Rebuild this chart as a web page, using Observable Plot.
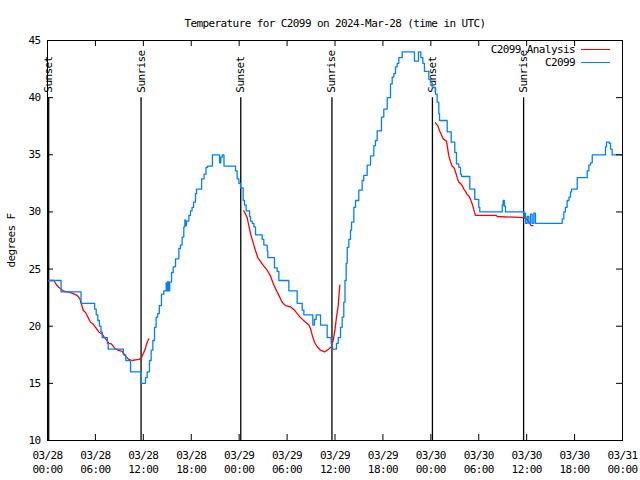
<!DOCTYPE html>
<html><head><meta charset="utf-8">
<script src="https://cdn.jsdelivr.net/npm/d3@7"></script>
<script src="https://cdn.jsdelivr.net/npm/@observablehq/plot@0.6"></script>
<style>
body{margin:0;background:#fff}
#wrap{position:relative;width:640px;height:480px;overflow:hidden}
.lg{position:absolute;font-family:"DejaVu Sans Mono",monospace;font-size:11px;letter-spacing:-0.6px;line-height:13px;white-space:pre;text-align:right;color:#000}
.sw{position:absolute;height:1.3px}
</style></head><body><div id="wrap"></div>
<script>
const title = "Temperature for C2099 on 2024-Mar-28 (time in UTC)";
const yLabel = "degrees F";
const seriesNames = ["C2099 Analysis", "C2099"];
const seriesColors = ["#ff0000", "#0080ff"];
const startTime = "2024-03-28T00:00Z";
const endTime = "2024-03-31T00:00Z";
const xTickTimes = ["2024-03-28T00:00Z","2024-03-28T06:00Z","2024-03-28T12:00Z","2024-03-28T18:00Z",
  "2024-03-29T00:00Z","2024-03-29T06:00Z","2024-03-29T12:00Z","2024-03-29T18:00Z",
  "2024-03-30T00:00Z","2024-03-30T06:00Z","2024-03-30T12:00Z","2024-03-30T18:00Z","2024-03-31T00:00Z"];
const yTicks = [10, 15, 20, 25, 30, 35, 40, 45];
const sunEventTimes = ["2024-03-28T00:09Z","2024-03-28T11:43Z","2024-03-29T00:12Z","2024-03-29T11:37Z","2024-03-30T00:12Z","2024-03-30T11:37Z"];
const sunEventLabels = ["Sunset","Sunrise","Sunset","Sunrise","Sunset","Sunrise"];

// observed (C2099): hours after 2024-03-28 00:00 UTC; each value holds until the next time
const obsHours = [
  0,1.7,4.2,5.9,6.1,6.3,6.5,6.7,6.85,7.5,
  7.6,9.5,9.8,10.4,11.75,12.27,12.48,12.77,12.98,13.19,
  13.4,13.6,13.8,14.0,14.27,14.56,14.86,14.95,15.05,15.15,
  15.3,15.53,15.74,16.03,16.45,16.65,16.86,17.07,17.2,17.3,
  17.4,17.7,17.9,18.1,18.3,18.53,18.66,19.3,19.6,19.85,
  20.05,20.65,21.55,21.7,21.9,22.1,23.54,23.75,23.96,24.17,
  24.5,24.67,24.88,25.3,25.42,25.63,25.84,26.05,26.88,27.09,
  27.51,27.59,28.42,28.76,28.97,30.22,31.26,31.89,32.1,33.22,
  33.43,33.64,34.19,35.02,35.52,35.65,36.19,36.4,36.69,36.9,
  37.1,37.25,37.4,37.53,37.73,37.94,38.07,38.36,38.57,38.98,
  39.4,39.6,40.03,40.45,40.86,41.07,41.28,41.82,42.11,42.54,
  42.95,43.16,43.37,43.58,43.79,43.99,44.41,45.95,46.45,46.75,
  47.0,47.2,47.75,47.96,48.17,48.58,48.79,49.0,49.09,50.05,
  50.55,51.0,51.21,51.5,51.71,51.84,52.88,53.5,54.0,54.13,
  56.94,57.05,57.2,57.35,59.64,59.75,59.86,60.07,60.27,60.48,
  60.69,60.9,61.1,64.45,64.65,64.85,65.07,65.3,65.49,65.62,
  66.33,67.58,67.79,68.0,68.21,69.87,70.0,70.35,70.5,70.7,
  72];
const obsTemps = [
  24,23,22,21.5,21,20.5,20,19.5,19,18.5,
  18,17.5,17,16,15,15.5,16,17,17.9,18.75,
  19.9,20.8,21.1,21.8,22.8,23.1,23.8,23.1,23.9,23.1,
  23.85,24.7,25.2,25.9,26.8,27.1,27.8,28.7,29.3,28.8,
  29.2,29.7,30.1,30.4,30.85,31.6,32,32.9,33.3,33.9,
  34,35,34.3,34.8,35,34,33.6,32.9,32.5,32.1,
  31,30.6,30.1,29.6,29.2,29,28.7,28,27.6,27.1,
  26.6,26,25.1,24.8,24,23.1,22,21.4,21,20.1,
  20.6,21,20.1,19,18.5,18,18.5,19,19.9,20.8,
  22.1,24,25.5,26.9,27.6,28.4,29.1,30.4,31,31.9,
  32.75,33.2,34.1,34.9,35.8,36.25,37.1,38.3,39,40,
  41.2,41.8,42.1,42.7,43,43.5,44,43.2,44,43.5,
  43,42.3,41.6,41.3,40.9,40.3,39.6,38.6,38,37,
  36.1,35.2,34.2,33.9,33.3,33.1,32,31.1,30.4,30,
  30.6,31,30.5,30,29.6,29.9,29,29.6,29,29.8,
  29,29.9,29,29.4,30,30.4,31,31.3,31.75,32,
  33,33.6,34.1,34.3,35,35.7,36.1,36,35.5,35,
  35];

// analysis (C2099 Analysis): three separate runs
const anaHours1 = [0.29,0.79,1.2,1.63,2.04,2.5,3.09,3.72,4.05,4.22,4.47,4.76,5.05,5.38,5.7,6.01,6.43,6.85,7.14,7.4,7.68,8.0,8.39,8.81,9.35,9.77,10.18,10.6,11.02,11.44,11.73,12.06,12.27,12.48,12.69];
const anaTemps1 = [24,24,23.56,23.27,23.06,23,22.9,22.7,22.4,22,21.4,21.2,20.8,20.35,20.2,19.9,19.5,19.3,19,18.8,18.5,18.45,18.1,17.9,17.8,17.4,17.1,17,17.05,17.1,17.2,17.7,18.1,18.6,18.9];
const anaHours2 = [24.58,25.0,25.21,25.42,25.63,25.84,26.05,26.34,26.58,26.88,27.17,27.51,27.92,28.13,28.34,28.68,28.97,29.39,29.8,30.43,30.93,31.26,31.68,32.31,32.72,32.93,33.15,33.43,33.77,34.18,34.69,35.22,35.56,35.77,35.98,36.19,36.4,36.6];
const anaTemps2 = [30.1,29.5,28.8,28.1,27.6,27.1,26.6,26,25.75,25.45,25.2,24.9,24.4,24,23.6,23.1,22.7,22.1,21.8,21.7,21.4,21.1,20.75,20.35,20.1,19.8,19.2,18.6,18.2,17.9,17.75,18,18.2,18.75,19.6,20.8,21.8,23.6];
const anaHours3 = [48.58,48.87,49.09,49.3,49.5,49.71,49.96,50.05,50.25,50.46,50.67,50.88,51.09,51.3,51.5,51.71,51.92,52.13,52.34,52.55,52.76,52.97,53.18,53.38,53.59,56.22,56.3,59.64,59.98,60.27,60.57,60.78];
const anaTemps3 = [37.8,37.55,37.1,36.8,36.45,36.3,36.2,35.8,34.9,34.4,34,33.9,33.5,33,32.6,32.5,32.3,32,31.8,31.5,31.4,31.1,30.7,30.2,29.7,29.7,29.6,29.5,29.4,29.1,28.8,28.8];

const t0 = new Date(startTime);
const at = h => new Date(+t0 + h * 3600e3);
const obs = obsHours.map((h, i) => ({t: at(h), v: obsTemps[i]}));
const ana = [[anaHours1, anaTemps1], [anaHours2, anaTemps2], [anaHours3, anaTemps3]]
  .flatMap(([hs, vs], r) => hs.map((h, i) => ({t: at(h), v: vs[i], run: r})));
const events = sunEventTimes.map((s, i) => ({t: new Date(s), label: sunEventLabels[i]}));
const xTicks = xTickTimes.map(s => new Date(s));
const fmt = d3.utcFormat("%m/%d\n%H:%M");

const chart = Plot.plot({
  width: 640, height: 480,
  marginLeft: 47, marginRight: 18, marginTop: 40, marginBottom: 40,
  style: {fontFamily: "'DejaVu Sans Mono', monospace", fontSize: "11px", letterSpacing: "-0.6px", background: "#fff", color: "#000"},
  x: {type: "utc", domain: [new Date(startTime), new Date(endTime)]},
  y: {domain: [10, 45]},
  marks: [
    Plot.ruleX(events, {x: "t", y1: 10, y2: 40, stroke: "#000", strokeWidth: 1.3}),
    Plot.text(events, {x: "t", y: 40, text: "label", rotate: -90, textAnchor: "start", dy: -5, fill: "#000"}),
    Plot.line(ana, {x: "t", y: "v", z: "run", stroke: seriesColors[0], strokeWidth: 1.3}),
    Plot.line(obs, {x: "t", y: "v", curve: "step-after", stroke: seriesColors[1], strokeWidth: 1.3}),
    Plot.tickX(xTicks, {x: d => d, insetTop: 394, stroke: "#000"}),
    Plot.tickX(xTicks, {x: d => d, insetBottom: 394, stroke: "#000"}),
    Plot.tickY(yTicks, {y: d => d, insetRight: 569, stroke: "#000"}),
    Plot.tickY(yTicks, {y: d => d, insetLeft: 569, stroke: "#000"}),
    Plot.frame({stroke: "#000"}),
    Plot.axisX(xTicks, {tickSize: 0, tickPadding: 9, tickFormat: fmt, lineHeight: 1.27, label: null}),
    Plot.axisY(yTicks, {tickSize: 0, tickPadding: 7, label: yLabel, labelAnchor: "center", labelOffset: 40, labelArrow: "none"}),
    Plot.text([title], {frameAnchor: "top", dy: -21, fill: "#000"})
  ]
});
const wrap = document.getElementById("wrap");
wrap.appendChild(chart);
// legend
seriesNames.forEach((name, i) => {
  const t = document.createElement("div");
  t.className = "lg"; t.textContent = name;
  t.style.right = (640 - 575) + "px"; t.style.top = (43 + i * 13) + "px";
  wrap.appendChild(t);
  const s = document.createElement("div");
  s.className = "sw"; s.style.background = seriesColors[i];
  s.style.left = "581px"; s.style.width = "29px"; s.style.top = (49 + i * 13) + "px";
  wrap.appendChild(s);
});
</script></body></html>
